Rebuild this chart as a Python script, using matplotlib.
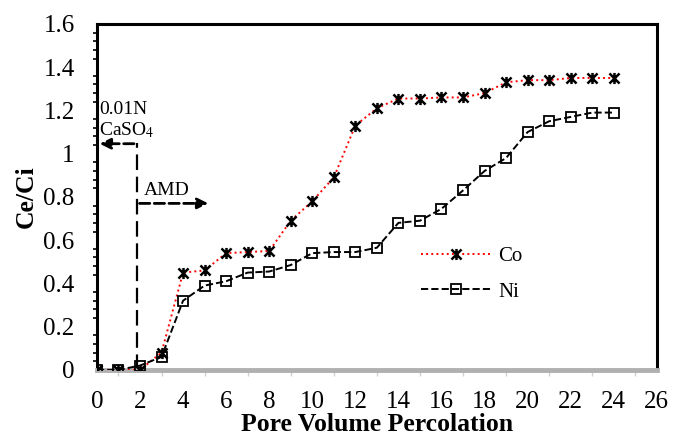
import matplotlib
matplotlib.use("Agg")
import matplotlib.pyplot as plt
from matplotlib.path import Path
from matplotlib.ticker import MultipleLocator

plt.rcParams['font.family'] = ['Liberation Serif', 'DejaVu Serif']
plt.rcParams['mathtext.fontset'] = 'stix'

# pore volumes and breakthrough ratios
pore_volume = list(range(25))
co = [0, 0, 0, 0.08, 0.45, 0.46, 0.54, 0.545, 0.55, 0.69, 0.78, 0.89, 1.13, 1.21,
      1.255, 1.255, 1.26, 1.26, 1.28, 1.33, 1.34, 1.34, 1.35, 1.35, 1.35]
ni = [0, 0, 0.02, 0.06, 0.32, 0.39, 0.41, 0.45, 0.455, 0.485, 0.54, 0.545, 0.545, 0.565,
      0.68, 0.69, 0.745, 0.83, 0.92, 0.98, 1.10, 1.15, 1.17, 1.19, 1.19]
x_ticks = list(range(0, 27, 2))
y_ticks = [0, 0.2, 0.4, 0.6, 0.8, 1.0, 1.2, 1.4, 1.6]
y_tick_labels = ['0', '0.2', '0.4', '0.6', '0.8', '1', '1.2', '1.4', '1.6']

# excel style star marker: an X with a vertical bar
star = Path([(-1, -1), (1, 1), (-1, 1), (1, -1), (0, -1.1), (0, 1.1)],
            [Path.MOVETO, Path.LINETO, Path.MOVETO, Path.LINETO, Path.MOVETO, Path.LINETO])

fig = plt.figure(figsize=(6.73, 4.43), dpi=100)
ax = fig.add_axes([0.144, 0.165, 0.832, 0.781])

ax.plot(pore_volume, co, color='red', linestyle=':', linewidth=1.4,
        marker=star, markersize=8, markeredgecolor='black',
        markeredgewidth=1.8, label='Co', zorder=3)
ax.plot(pore_volume, ni, color='black', linestyle='--', linewidth=1.4,
        marker='s', markersize=7, markerfacecolor='none',
        markeredgecolor='black', markeredgewidth=1.3, label='Ni', zorder=3)

# annotations for the two feed solutions
ax.plot([1.85, 1.85], [0, 1.05], color='black', linestyle=(0, (7, 3)), linewidth=1.6)
ax.annotate('', xy=(0.0, 1.046), xytext=(1.85, 1.046),
            arrowprops=dict(arrowstyle='-|>', linestyle='--', color='black',
                            lw=2, mutation_scale=16))
ax.annotate('', xy=(5.3, 0.77), xytext=(1.85, 0.77),
            arrowprops=dict(arrowstyle='-|>', linestyle='--', color='black',
                            lw=2, mutation_scale=16))
ax.text(0.1, 1.065, '0.01N\nCaSO$_4$', fontsize=14, ha='left', va='bottom',
        linespacing=1.1)
ax.text(2.2, 0.79, 'AMD', fontsize=14, ha='left', va='bottom')

ax.set_xlim(0, 26)
ax.set_ylim(0, 1.6)
ax.set_xticks(x_ticks)
ax.set_yticks(y_ticks)
ax.set_yticklabels(y_tick_labels)
ax.xaxis.set_minor_locator(MultipleLocator(1))
ax.yaxis.set_minor_locator(MultipleLocator(0.04))
ax.tick_params(axis='both', labelsize=18, length=0)
ax.tick_params(axis='y', pad=16)
ax.tick_params(axis='x', pad=15)
ax.tick_params(axis='y', which='minor', length=3, direction='out', width=1.2)
ax.tick_params(axis='x', which='minor', length=4, direction='out', width=1,
               color='#d0d0d0')

for side in ['left', 'top', 'right']:
    ax.spines[side].set_linewidth(2.2)
    ax.spines[side].set_color('black')
ax.spines['bottom'].set_linewidth(3.5)
ax.spines['bottom'].set_color('#b0b0b0')

ax.set_xlabel('Pore Volume Percolation', fontsize=18.5, fontweight='bold', labelpad=0)
ax.set_ylabel('Ce/Ci', fontsize=18.5, fontweight='bold', labelpad=4)

leg = ax.legend(loc='upper left', bbox_to_anchor=(0.545, 0.41), frameon=False,
                fontsize=15, handlelength=3.4, labelspacing=0.75, handletextpad=0.3)

fig.savefig('out.png', dpi=100)
